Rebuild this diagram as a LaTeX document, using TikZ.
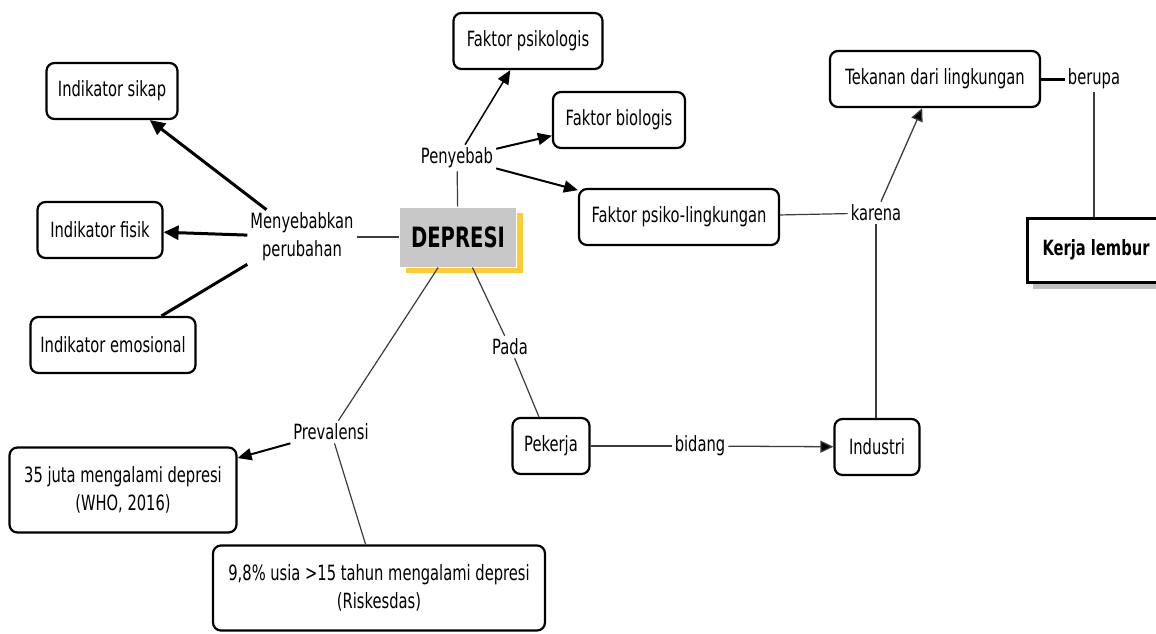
\documentclass[tikz,border=0pt]{standalone}
\usepackage{fontspec}
\setmainfont{DejaVu Sans}[FakeStretch=0.70]
\usepackage{tikz}
\usetikzlibrary{positioning,arrows.meta,shadows}

\definecolor{depgray}{HTML}{C8C8C8}
\definecolor{depyellow}{HTML}{FFCC33}
\definecolor{shadegray}{HTML}{BDBDBD}
\definecolor{linegray}{HTML}{3C3C3C}

\begin{document}
\begin{tikzpicture}[x=1pt,y=-1pt,
  font=\fontsize{21}{28}\selectfont,
  box/.style={draw,line width=2.2pt,rounded corners=8pt,fill=white,
    minimum height=56pt,align=center,inner sep=4pt},
  lbl/.style={align=center,inner sep=3pt},
  thinline/.style={draw=linegray,line width=1.2pt},
  arrthick/.style={draw,line width=3pt,-{Triangle[length=15pt,width=14pt]}},
  arrmid/.style={draw,line width=2pt,-{Triangle[length=14pt,width=12pt]}},
  arrthin/.style={draw=linegray,line width=1.3pt,-{Triangle[length=13pt,width=12pt,fill=black]}},
  depbox/.style={fill=depgray,draw=white,line width=1pt,minimum width=117pt,
    minimum height=60pt,font=\fontsize{28}{30}\selectfont\bfseries,
    drop shadow={shadow xshift=6pt,shadow yshift=-6pt,fill=depyellow,opacity=1}},
  kerjabox/.style={draw,line width=3pt,fill=white,minimum width=138pt,
    minimum height=64pt,font=\fontsize{21}{28}\selectfont\bfseries,
    drop shadow={shadow xshift=6pt,shadow yshift=-7pt,fill=shadegray,opacity=1}}
]

  \fill[white] (0,0) rectangle (1156,633);
  \useasboundingbox (0,0) rectangle (1156,633);

  % centre
  \node[depbox] (dep) at (458,237) {DEPRESI};

  % Menyebabkan perubahan
  \node[lbl] (mp) at (302,237) {Menyebabkan\\perubahan};
  \node[box,minimum width=131pt] (isikap) at (112,91) {Indikator sikap};
  \node[box,minimum width=125pt] (ifisik) at (100,230) {Indikator fisik};
  \node[box,minimum width=165pt] (iemosi) at (113,345) {Indikator emosional};

  % Penyebab
  \node[lbl] (sebab) at (457,158) {Penyebab};
  \node[box,minimum width=149pt] (fpsi) at (528,41) {Faktor psikologis};
  \node[box,minimum width=132pt] (fbio) at (619,120) {Faktor biologis};
  \node[box,minimum width=200pt] (fling) at (679,217) {Faktor psiko-lingkungan};

  % karena / berupa
  \node[lbl] (karena) at (876,213) {karena};
  \node[box,minimum width=210pt] (tekanan) at (935,79) {Tekanan dari lingkungan};
  \node[lbl] (berupa) at (1094,79) {berupa};
  \node[kerjabox] (kerja) at (1096,250) {Kerja lembur};

  % Pada
  \node[lbl] (pada) at (510,347) {Pada};
  \node[box,minimum width=77pt] (pekerja) at (551,446) {Pekerja};
  \node[lbl] (bidang) at (700,446) {bidang};
  \node[box,minimum width=85pt] (industri) at (877,447) {Industri};

  % Prevalensi
  \node[lbl] (prev) at (331,432) {Prevalensi};
  \node[box,minimum width=227pt,minimum height=85pt] (who) at (123,490)
    {35 juta mengalami depresi\\(WHO, 2016)};
  \node[box,minimum width=332pt,minimum height=85pt] (riskes) at (379,588)
    {9,8\% usia >15 tahun mengalami depresi\\(Riskesdas)};

  \path[thinline] (dep) edge (mp);
  \path[arrthick] (mp) edge (isikap);
  \path[arrthick] (mp) edge (ifisik);
  \path[draw,line width=3pt] (mp.south west) edge (iemosi);

  \path[thinline] (dep) edge (sebab);
  \path[arrmid,line width=1.5pt] (sebab) edge (fpsi);
  \path[arrmid] (sebab) edge (fbio);
  \path[arrmid] (sebab) edge (fling);

  \path[thinline] (fling) edge (karena);
  \path[arrthin] (karena) edge (tekanan);
  \path[thinline] (karena) edge (karena |- industri.north);
  \path[draw,line width=3pt] (tekanan) edge (berupa);
  \path[thinline] (berupa) edge (berupa |- kerja.north);

  \path[thinline] (dep) edge (pada);
  \path[thinline] (pada) edge (pekerja);
  \path[thinline] (pekerja) edge (bidang);
  \path[arrthin] (bidang) edge (industri);

  \path[thinline] (dep) edge (prev);
  \path[arrmid] (prev) edge (who);
  \path[thinline] (prev) edge (riskes);

\end{tikzpicture}
\end{document}
